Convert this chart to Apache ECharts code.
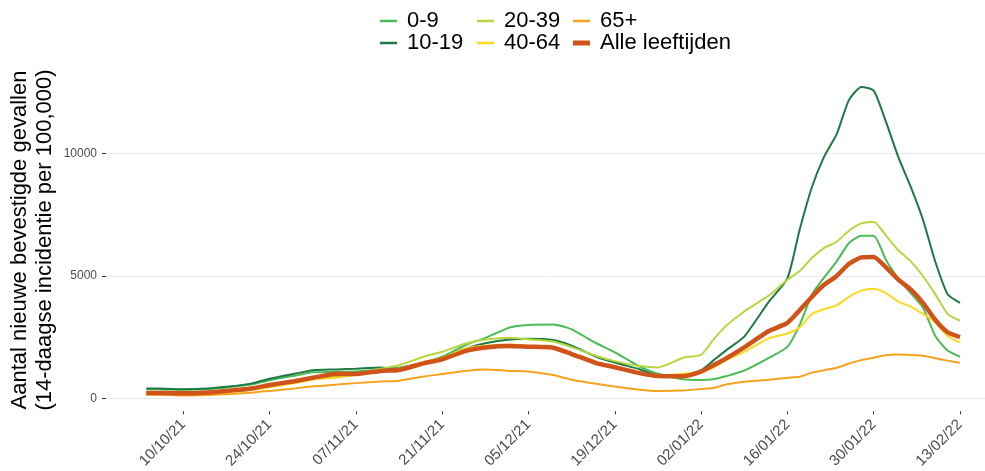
<!DOCTYPE html>
<html>
<head>
<meta charset="utf-8">
<script src="https://cdn.jsdelivr.net/npm/echarts@6/dist/echarts.min.js"></script>
<style>
html,body{margin:0;padding:0;background:#fff;}
#chart{width:985px;height:471px;}
</style>
</head>
<body>
<div id="chart"></div>
<script>
// Dates of sampled points
var dates = ['2021-10-04','2021-10-07','2021-10-10','2021-10-14','2021-10-17','2021-10-21','2021-10-24','2021-10-28','2021-10-31','2021-11-04','2021-11-07','2021-11-11','2021-11-14','2021-11-18','2021-11-21','2021-11-25','2021-11-28','2021-12-02','2021-12-05','2021-12-09','2021-12-12','2021-12-16','2021-12-19','2021-12-23','2021-12-26','2021-12-30','2022-01-02','2022-01-04','2022-01-06','2022-01-09','2022-01-13','2022-01-16','2022-01-18','2022-01-20','2022-01-22','2022-01-24','2022-01-26','2022-01-28','2022-01-30','2022-02-01','2022-02-03','2022-02-05','2022-02-07','2022-02-09','2022-02-11','2022-02-13'];

var age0_9 =  [370,360,350,380,440,560,740,920,1060,1080,1100,1180,1250,1450,1700,2200,2470,2900,3000,3020,2820,2250,1880,1300,1000,780,750,780,900,1130,1650,2100,3000,4250,4950,5600,6350,6650,6650,5650,4900,4300,3700,2550,1950,1700];
var age10_19 = [400,390,370,400,470,600,800,1000,1150,1180,1210,1260,1200,1450,1650,2050,2250,2400,2430,2380,2150,1700,1460,1190,950,950,1150,1550,1950,2520,3950,4900,6900,8650,9900,10800,12200,12730,12580,11300,9860,8650,7300,5580,4250,3900];
var age20_39 = [250,250,240,260,300,400,520,680,820,900,1000,1210,1350,1700,1900,2250,2400,2470,2410,2320,2090,1730,1520,1320,1260,1650,1780,2400,2950,3550,4200,4850,5200,5750,6150,6400,6850,7150,7220,6650,6050,5600,5000,4250,3450,3170];
var age40_64 = [200,200,190,210,250,340,450,620,760,850,950,1100,1200,1480,1650,2050,2150,2200,2150,2080,1850,1480,1290,1050,930,1000,1080,1250,1550,1900,2450,2650,2900,3450,3650,3800,4150,4400,4480,4300,3950,3750,3450,3100,2550,2280];
var age65 =   [140,140,110,130,170,230,300,400,490,560,620,690,720,890,990,1130,1180,1120,1100,950,760,590,480,350,300,320,380,420,560,680,760,840,880,1050,1150,1250,1420,1560,1660,1760,1790,1770,1740,1640,1540,1450];
var ageAll =  [220,215,205,240,300,400,540,700,840,1000,990,1120,1160,1430,1590,1950,2080,2140,2110,2070,1810,1440,1270,1030,910,900,1090,1350,1620,2080,2750,3080,3600,4150,4650,5000,5500,5760,5780,5350,4850,4450,3900,3200,2700,2500];

var seriesNames = ['0-9','10-19','20-39','40-64','65+','Alle leeftijden'];
var xTickLabels = ['2021-10-10','2021-10-24','2021-11-07','2021-11-21','2021-12-05','2021-12-19','2022-01-02','2022-01-16','2022-01-30','2022-02-13'];
var yTickLabels = [0,5000,10000];

var DAY = 86400000;
var epoch = Date.UTC(2021,9,10);
function dayNum(s){var p=s.split('-');return Math.round((Date.UTC(+p[0],+p[1]-1,+p[2])-epoch)/DAY);}
function pairs(vals){return dates.map(function(d,i){return [dayNum(d),vals[i]];});}
function pad(n){return (n<10?'0':'')+n;}
function fmt(v){var d=new Date(epoch+Math.round(v)*DAY);return pad(d.getUTCDate())+'/'+pad(d.getUTCMonth()+1)+'/'+pad(d.getUTCFullYear()%100);}

var colors = ['#4cbb57','#1c7a42','#b5d63e','#fcd920','#f5a31e','#d0541a'];
var widths = [2,2,2,2,2,4.5];
var allData = [age0_9,age10_19,age20_39,age40_64,age65,ageAll];

var series = seriesNames.map(function(n,i){
  return {
    name:n, type:'line', data:pairs(allData[i]), showSymbol:false, symbol:'none',
    clip:false, smooth:0.2, z:(i===5?10:2+i),
    lineStyle:{color:colors[i],width:widths[i]}, itemStyle:{color:colors[i]}
  };
});
var legendPos = [
  {left:380,top:10,name:'0-9',h:2.5},
  {left:380,top:32,name:'10-19',h:2.5},
  {left:477,top:10,name:'20-39',h:2.5},
  {left:477,top:32,name:'40-64',h:2.5},
  {left:573,top:10,name:'65+',h:2.5},
  {left:573,top:32,name:'Alle leeftijden',h:5}
];
var legends = legendPos.map(function(p){
  return {left:p.left,top:p.top,data:[p.name],icon:'rect',itemWidth:17,itemHeight:p.h,
    selectedMode:false,padding:0,
    textStyle:{fontFamily:'Liberation Sans, Arial, sans-serif',fontSize:22,color:'#000',padding:[0,0,0,5],lineHeight:22}};
});

var chart = echarts.init(document.getElementById('chart'),null,{renderer:'canvas'});
chart.setOption({
  animation:false,
  backgroundColor:'#fff',
  legend:legends,
  grid:{left:106,right:0,top:92.55,bottom:72.7,containLabel:false},
  xAxis:{type:'value',min:-12.54,max:130.06,offset:13,
    axisLine:{show:false,onZero:false},
    axisTick:{show:true,length:3,lineStyle:{color:'#333'},customValues:xTickLabels.map(dayNum)},
    axisLabel:{rotate:45,margin:11,fontSize:15,color:'#4d4d4d',fontFamily:'Liberation Sans, Arial, sans-serif',
      customValues:xTickLabels.map(dayNum),formatter:fmt},
    splitLine:{show:false}
  },
  yAxis:{type:'value',min:0,max:12500,interval:2500,
    axisLine:{show:false,onZero:false},
    axisTick:{show:true,length:4,lineStyle:{color:'#333'},customValues:yTickLabels},
    axisLabel:{margin:9,fontSize:12,color:'#4d4d4d',fontFamily:'Liberation Sans, Arial, sans-serif',customValues:yTickLabels,
      formatter:function(v){return String(v);}},
    splitLine:{show:true,lineStyle:{color:'#ebebeb',width:1}}
  },
  graphic:[{type:'text',x:32,y:240,rotation:Math.PI/2,
    style:{text:'Aantal nieuwe bevestigde gevallen\n(14-daagse incidentie per 100,000)',
      font:'22px "Liberation Sans", Arial, sans-serif',fill:'#000',align:'center',verticalAlign:'middle',lineHeight:25}}],
  series:series
});
</script>
</body>
</html>
